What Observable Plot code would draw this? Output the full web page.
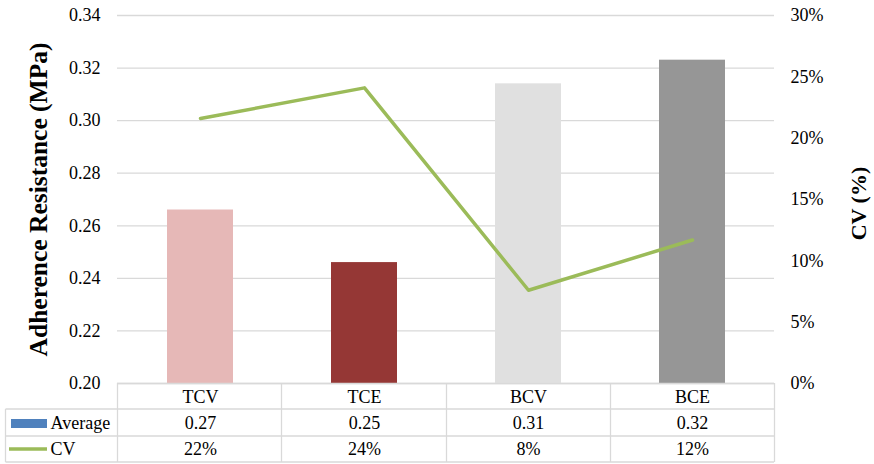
<!DOCTYPE html>
<html>
<head>
<meta charset="utf-8">
<script src="https://cdn.jsdelivr.net/npm/d3@7"></script>
<script src="https://cdn.jsdelivr.net/npm/@observablehq/plot@0.6"></script>
<style>
  body { margin: 0; background: #fff; }
  #chart svg { display: block; }
  #chart svg text { font-family: "Liberation Serif", "Times New Roman", serif; }
</style>
</head>
<body>
<div id="chart"></div>
<script>
// Adherence resistance per coating and its coefficient of variation
const categories = ["TCV", "TCE", "BCV", "BCE"];
const averages = [0.266, 0.246, 0.314, 0.323];   // MPa
const cvValues = [0.216, 0.241, 0.076, 0.117];   // fraction
const leftTicks = [0.20, 0.22, 0.24, 0.26, 0.28, 0.30, 0.32, 0.34];
const rightTicks = [0, 0.05, 0.10, 0.15, 0.20, 0.25, 0.30];

const barColors = ["#E6B8B7", "#953735", "#E0E0E0", "#969696"];
const lineColor = "#9BBB59";
const keyColor = "#4F81BD";
const gridColor = "#D9D9D9";
const serif = "'Liberation Serif', 'Times New Roman', serif";

const rows = categories.map((cat, i) => ({cat, avg: averages[i], cv: cvValues[i]}));

// secondary axis: CV (0–30%) shares the vertical extent of the MPa axis
const cvToY = d3.scaleLinear([0, 0.30], [0.20, 0.34]);
const fmtAvg = d3.format(".2f");
const fmtPct = d3.format(".0%");

// data table under the chart: cell borders and legend keys
function tableFrame(index, scales, values, dims) {
  const {width, height, marginLeft, marginRight, marginBottom} = dims;
  const left = marginLeft, right = width - marginRight, top = height - marginBottom;
  const n = categories.length, colW = (right - left) / n;
  const r1 = top + 26, r2 = top + 53, r3 = top + 79, outer = 5.5;
  const g = d3.create("svg:g");
  const lines = g.append("g").attr("stroke", gridColor).attr("stroke-width", 1.3);
  const hl = (x1, x2, y) => lines.append("line").attr("x1", x1).attr("x2", x2).attr("y1", y).attr("y2", y);
  const vl = (x, y1, y2) => lines.append("line").attr("x1", x).attr("x2", x).attr("y1", y1).attr("y2", y2);
  hl(left, right, top + 0.5);
  hl(outer, right, r1);
  hl(outer, right, r2);
  hl(outer, right, r3);
  vl(outer, r1, r3);
  for (let i = 0; i <= n; ++i) vl(Math.round(left + i * colW) + 0.5, top, r3);
  g.append("rect").attr("x", 11).attr("y", r1 + 10).attr("width", 36).attr("height", 9).attr("fill", keyColor);
  g.append("line").attr("x1", 9).attr("x2", 47).attr("y1", r2 + 13).attr("y2", r2 + 13)
    .attr("stroke", lineColor).attr("stroke-width", 3.5);
  return g.node();
}

const textOpts = {fontSize: 18, fontFamily: serif, fill: "#000", lineAnchor: "middle"};

const chart = Plot.plot({
  width: 874,
  height: 464,
  marginLeft: 117,
  marginRight: 100,
  marginTop: 15,
  marginBottom: 81,
  style: {fontFamily: serif, fontSize: "18px", background: "#fff", color: "#000"},
  x: {domain: categories, padding: 0, axis: null},
  y: {domain: [0.20, 0.34], axis: null},
  color: {domain: categories, range: barColors},
  marks: [
    Plot.gridY(leftTicks, {stroke: gridColor, strokeOpacity: 1, strokeWidth: 1.3}),
    Plot.barY(rows, {x: "cat", y1: () => 0.20, y2: "avg", fill: "cat", insetLeft: 49, insetRight: 49}),
    Plot.lineY(rows, {x: "cat", y: d => cvToY(d.cv), stroke: lineColor, strokeWidth: 3.5, strokeLinejoin: "round"}),
    Plot.axisY(leftTicks, {anchor: "left", tickSize: 0, tickPadding: 17, tickFormat: fmtAvg, label: null, ...textOpts}),
    Plot.axisY(rightTicks.map(cvToY), {anchor: "right", tickSize: 0, tickPadding: 16,
      tickFormat: d => fmtPct(cvToY.invert(d)), label: null, ...textOpts}),
    Plot.text(["Adherence Resistance (MPa)"], {text: d => d, frameAnchor: "left", textAnchor: "middle",
      rotate: -90, dx: -79, ...textOpts, fontSize: 25.5, fontWeight: "bold"}),
    Plot.text(["CV (%)"], {text: d => d, frameAnchor: "right", textAnchor: "middle",
      rotate: -90, dx: 84, dy: 4, ...textOpts, fontSize: 22, fontWeight: "bold"}),
    tableFrame,
    // table rows: category names, averages, CV
    Plot.text(rows, {x: "cat", text: "cat", frameAnchor: "bottom", dy: 14, ...textOpts}),
    Plot.text(rows, {x: "cat", text: d => fmtAvg(d.avg), frameAnchor: "bottom", dy: 40, ...textOpts}),
    Plot.text(rows, {x: "cat", text: d => fmtPct(d.cv), frameAnchor: "bottom", dy: 66, ...textOpts}),
    Plot.text(["Average"], {text: d => d, frameAnchor: "bottom-left", dx: -67, dy: 40, textAnchor: "start", ...textOpts}),
    Plot.text(["CV"], {text: d => d, frameAnchor: "bottom-left", dx: -67, dy: 66, textAnchor: "start", ...textOpts})
  ]
});

document.getElementById("chart").append(chart);
</script>
</body>
</html>
